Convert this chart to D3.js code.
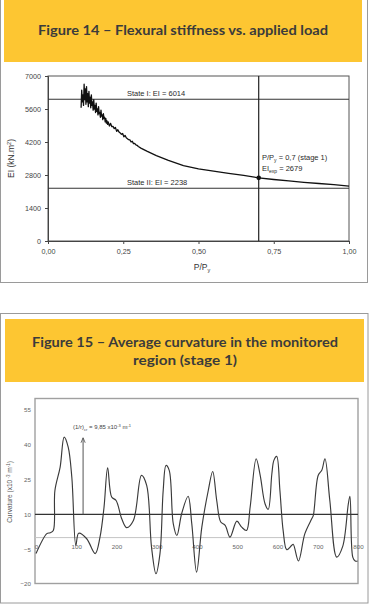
<!DOCTYPE html>
<html>
<head>
<meta charset="utf-8">
<script src="https://cdn.jsdelivr.net/npm/d3@7"></script>
<style>
  html, body { margin: 0; padding: 0; background: #fff; }
  svg { display: block; }
  text { font-family: "Liberation Sans", "DejaVu Sans", sans-serif; }
  .title { font-family: "Lato", "Open Sans", sans-serif; font-weight: 700; fill: #3b3b3b; }
</style>
</head>
<body>
<svg id="chart" width="370" height="614"></svg>
<script>
// ---------- Figure 14 data ----------
const fig14Title = "Figure 14 – Flexural stiffness vs. applied load";
const eiTicks = [0, 1400, 2800, 4200, 5600, 7000];
const loadTicks = [0, 0.25, 0.5, 0.75, 1.0];
const loadRatio = [
  0.110,0.112,0.114,0.116,0.118,0.120,0.122,0.124,0.126,0.128,
  0.130,0.132,0.134,0.136,0.138,0.140,0.142,0.144,0.146,0.148,
  0.150,0.152,0.154,0.156,0.158,0.160,0.162,0.164,0.166,0.168,
  0.170,0.172,0.174,0.176,0.178,0.180,0.182,0.184,0.186,0.188,
  0.190,0.192,0.194,0.196,0.198,0.200,
  0.204,0.208,0.212,0.216,0.220,0.224,0.228,0.232,0.236,0.240,
  0.244,0.248,0.252,0.256,0.260,0.264,0.268,0.272,0.276,0.280,
  0.284,0.288,0.292,0.296,0.300,
  0.31,0.33,0.36,0.40,0.45,0.50,0.55,0.60,0.65,0.70,0.75,0.80,0.85,0.90,0.95,1.00
];
const stiffness = [
  5650,6400,5900,6200,5750,6650,6000,6450,5800,6550,
  5900,6250,5700,6350,5850,6100,5650,6200,5750,5900,
  5550,6000,5600,5750,5450,5850,5500,5600,5350,5700,
  5400,5450,5250,5550,5300,5350,5150,5400,5200,5250,
  5050,5200,5000,5100,4950,5050,
  4880,4990,4850,4860,4770,4820,4650,4720,4620,4580,
  4530,4560,4420,4480,4380,4340,4300,4290,4200,4230,
  4130,4140,4080,4060,4010,
  3930,3800,3620,3420,3200,3060,2960,2870,2780,2679,2610,2550,2490,2440,2390,2330
];
const stateI = 6014;
const stateII = 2238;
const pStage = 0.7;
const eiExp = 2679;

// ---------- Figure 15 data ----------
const fig15TitleLines = ["Figure 15 – Average curvature in the monitored", "region (stage 1)"];
const curvTicksY = [-20, -5, 10, 25, 40, 55];
const curvTicksX = [0, 100, 200, 300, 400, 500, 600, 700, 800];
const curvPos = [0,27,35,43,47,60,70,80,89,99,106,126,147,159,169,178,188,199,213,225,242,262,275,287,298,308,316,323,331,341,350,362,378,387,399,412,428,439,449,459,470,482,499,511,523,532,547,557,569,577,586,591,598,606,614,623,635,639,652,668,685,689,701,710,718,730,747,762,776,780,787,793,799];
const curvVal = [-6.9,1.7,2.1,3.1,20.3,30.4,43.3,39,26,-3.4,1.9,-0.5,-6.9,0.2,13.1,30.1,17.5,16,8.1,4.3,7.4,26.8,22.5,-4.1,-15.6,-6.9,20.3,31.1,29,6,0.9,10.4,17.8,6,-14.9,4.5,20.3,28.5,16,6.7,5.3,0.2,7.1,4.5,3.1,13.1,34,26.8,14.6,12.2,27.5,33.3,35,20.3,3.1,-5.2,-3.4,-2.9,-10.1,1.7,8.1,9.6,26.8,29,34,16,-8.4,-3.8,14.6,17.8,-8.4,-10.1,-10.1];
const crCurv = 9.85;
const arrowPos = 117;
const arrowTop = 43;

const svg = d3.select("#chart");
const yellow = "#fdc632";

// ================= FIGURE 14 =================
svg.append("rect").attr("x", 0.5).attr("y", -2).attr("width", 367).attr("height", 284.5)
  .attr("fill", "#fff").attr("stroke", "#9a9a9a").attr("stroke-width", 1);
svg.append("rect").attr("x", 4).attr("y", 0).attr("width", 358).attr("height", 62).attr("fill", yellow);
svg.append("text").attr("class", "title").attr("x", 183).attr("y", 35)
  .attr("text-anchor", "middle").attr("font-size", 13.5)
  .attr("textLength", 290).attr("lengthAdjust", "spacingAndGlyphs").text(fig14Title);

const x14 = d3.scaleLinear().domain([0, 1]).range([48, 349]);
const y14 = d3.scaleLinear().domain([0, 7000]).range([241, 76]);

const g14 = svg.append("g");
g14.append("rect").attr("x", x14(0)).attr("y", y14(7000))
  .attr("width", x14(1) - x14(0)).attr("height", y14(0) - y14(7000))
  .attr("fill", "none").attr("stroke", "#555").attr("stroke-width", 1);

const ax14y = g14.append("g").attr("transform", `translate(${x14(0)},0)`)
  .call(d3.axisLeft(y14).tickValues(eiTicks).tickSize(3).tickPadding(4).tickFormat(d3.format("d")));
const ax14x = g14.append("g").attr("transform", `translate(0,${y14(0)})`)
  .call(d3.axisBottom(x14).tickValues(loadTicks).tickSize(3).tickPadding(5)
    .tickFormat(d => d3.format(".2f")(d).replace(".", ",")));
[ax14y, ax14x].forEach(a => {
  a.select(".domain").attr("stroke", "#444");
  a.selectAll(".tick line").attr("stroke", "#444");
  a.selectAll("text").attr("font-size", 7.2).attr("fill", "#444");
});

// reference lines
g14.append("line").attr("x1", x14(0)).attr("x2", x14(1)).attr("y1", y14(stateI)).attr("y2", y14(stateI))
  .attr("stroke", "#333").attr("stroke-width", 1.1);
g14.append("line").attr("x1", x14(0)).attr("x2", x14(1)).attr("y1", y14(stateII)).attr("y2", y14(stateII))
  .attr("stroke", "#333").attr("stroke-width", 1.1);
g14.append("line").attr("x1", x14(pStage)).attr("x2", x14(pStage)).attr("y1", y14(7000)).attr("y2", y14(0))
  .attr("stroke", "#222").attr("stroke-width", 1.2);

// curve
const pts14 = loadRatio.map((p, i) => [p, stiffness[i]]);
g14.append("path").datum(pts14)
  .attr("d", d3.line().x(d => x14(d[0])).y(d => y14(d[1])))
  .attr("fill", "none").attr("stroke", "#111").attr("stroke-width", 1.3).attr("stroke-linejoin", "round");
g14.append("circle").attr("cx", x14(pStage)).attr("cy", y14(eiExp)).attr("r", 2.3).attr("fill", "#111");

// annotations
const ann = g14.append("g").attr("fill", "#2a2a2a").attr("font-size", 7.5);
ann.append("text").attr("x", 127).attr("y", y14(stateI) - 3.5).text("State I: EI = " + stateI);
ann.append("text").attr("x", 127).attr("y", y14(stateII) - 3.5).text("State II: EI = " + stateII);
const t1 = ann.append("text").attr("x", 262).attr("y", 160);
t1.append("tspan").text("P/P");
t1.append("tspan").attr("font-size", 5).attr("dy", 2).text("y");
t1.append("tspan").attr("dy", -2).text(" = " + String(pStage).replace(".", ",") + " (stage 1)");
const t2 = ann.append("text").attr("x", 262).attr("y", 171);
t2.append("tspan").text("EI");
t2.append("tspan").attr("font-size", 5).attr("dy", 2).text("exp");
t2.append("tspan").attr("dy", -2).text(" = " + eiExp);

// axis titles
g14.append("text").attr("transform", `translate(14,${(y14(0) + y14(7000)) / 2}) rotate(-90)`)
  .attr("text-anchor", "middle").attr("font-size", 8.5).attr("fill", "#333")
  .html('EI (kN.m<tspan font-size="5.5" dy="-3">2</tspan><tspan dy="3">)</tspan>');
const xl = g14.append("text").attr("x", 202).attr("y", 270).attr("text-anchor", "middle")
  .attr("font-size", 8.5).attr("fill", "#333");
xl.append("tspan").text("P/P");
xl.append("tspan").attr("font-size", 5.5).attr("dy", 2).text("y");

// ================= FIGURE 15 =================
svg.append("rect").attr("x", 0.5).attr("y", 313.5).attr("width", 367.5).attr("height", 289.5)
  .attr("fill", "#fff").attr("stroke", "#9a9a9a").attr("stroke-width", 1);
svg.append("rect").attr("x", 5).attr("y", 319).attr("width", 359).attr("height", 63).attr("fill", yellow);
svg.append("text").attr("class", "title").attr("x", 185).attr("y", 347)
  .attr("text-anchor", "middle").attr("font-size", 13.5)
  .attr("textLength", 306).attr("lengthAdjust", "spacingAndGlyphs").text(fig15TitleLines[0]);
svg.append("text").attr("class", "title").attr("x", 185).attr("y", 365)
  .attr("text-anchor", "middle").attr("font-size", 13.5)
  .attr("textLength", 104).attr("lengthAdjust", "spacingAndGlyphs").text(fig15TitleLines[1]);

const x15 = d3.scaleLinear().domain([0, 800]).range([36, 358]);
const y15 = d3.scaleLinear().domain([-20, 55]).range([584, 410]);

const g15 = svg.append("g");
g15.append("rect").attr("x", 35).attr("y", 398.5).attr("width", 323).attr("height", 185)
  .attr("fill", "none").attr("stroke", "#a0a0a0").attr("stroke-width", 1.4);

// zero axis (light)
g15.append("line").attr("x1", 35).attr("x2", 358).attr("y1", y15(0)).attr("y2", y15(0))
  .attr("stroke", "#c4c4c4").attr("stroke-width", 1);

const ax15y = g15.append("g").attr("transform", "translate(35,0)")
  .call(d3.axisLeft(y15).tickValues(curvTicksY).tickSize(0).tickPadding(4));
const ax15x = g15.append("g").attr("transform", `translate(0,${y15(0)})`)
  .call(d3.axisBottom(x15).tickValues(curvTicksX).tickSize(0).tickPadding(7));
[ax15y, ax15x].forEach(a => {
  a.select(".domain").remove();
  a.selectAll("text").attr("font-size", 6.2).attr("fill", "#666");
});

// reference line at cracking curvature level
g15.append("line").attr("x1", 35).attr("x2", 358).attr("y1", y15(10)).attr("y2", y15(10))
  .attr("stroke", "#333").attr("stroke-width", 1.3);

const pts15 = curvPos.map((p, i) => [p, curvVal[i]]);
g15.append("path").datum(pts15)
  .attr("d", d3.line().x(d => x15(d[0])).y(d => y15(d[1])).curve(d3.curveCatmullRom.alpha(0.5)))
  .attr("fill", "none").attr("stroke", "#3a3a3a").attr("stroke-width", 1.15);

// arrow
svg.append("defs").append("marker").attr("id", "arr").attr("viewBox", "0 0 10 10")
  .attr("refX", 9).attr("refY", 5).attr("markerWidth", 7).attr("markerHeight", 7)
  .attr("markerUnits", "userSpaceOnUse").attr("orient", "auto")
  .append("path").attr("d", "M2,2 L9,5 L2,8").attr("fill", "none").attr("stroke", "#555").attr("stroke-width", 1.2);
g15.append("line").attr("x1", x15(arrowPos)).attr("x2", x15(arrowPos))
  .attr("y1", y15(10)).attr("y2", y15(arrowTop))
  .attr("stroke", "#555").attr("stroke-width", 1).attr("marker-end", "url(#arr)");

const a15 = g15.append("text").attr("x", 73).attr("y", 429).attr("font-size", 6).attr("fill", "#444");
a15.append("tspan").text("(1/r)");
a15.append("tspan").attr("font-size", 4).attr("dy", 1.5).text("cr");
a15.append("tspan").attr("dy", -1.5).text(" =  " + String(crCurv).replace(".", ",") + " x10");
a15.append("tspan").attr("font-size", 4).attr("dy", -2).text("-3");
a15.append("tspan").attr("dy", 2).text(" m");
a15.append("tspan").attr("font-size", 4).attr("dy", -2).text("-1");

g15.append("text").attr("transform", "translate(12,492) rotate(-90)")
  .attr("text-anchor", "middle").attr("font-size", 6.5).attr("fill", "#555")
  .html('Curvature (x10<tspan font-size="4.5" dy="-2"> -3</tspan><tspan dy="2"> m</tspan><tspan font-size="4.5" dy="-2">-1</tspan><tspan dy="2">)</tspan>');
</script>
</body>
</html>
